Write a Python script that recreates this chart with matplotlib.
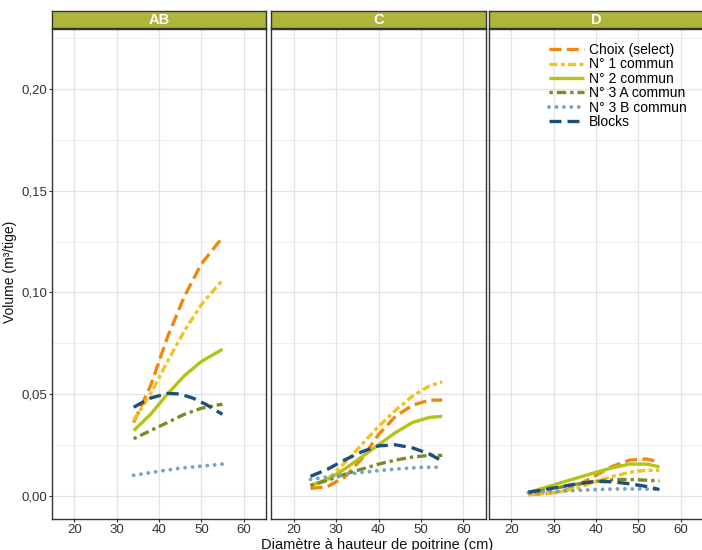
import matplotlib
matplotlib.use("Agg")
import matplotlib.pyplot as plt
from matplotlib.ticker import FuncFormatter, MultipleLocator

plt.rcParams['font.family'] = ['Liberation Sans', 'DejaVu Sans']

panels = ["AB", "C", "D"]
series = ["Choix (select)", "N° 1 commun", "N° 2 commun", "N° 3 A commun", "N° 3 B commun", "Blocks"]

# ---- data: panel AB ----
ab_choix_x = [34, 38, 42, 46, 50, 55]
ab_choix_y = [0.036, 0.054, 0.078, 0.098, 0.114, 0.127]
ab_n1_x = [34, 38, 42, 46, 50, 55]
ab_n1_y = [0.037, 0.050, 0.066, 0.081, 0.094, 0.106]
ab_n2_x = [34, 38, 42, 46, 50, 55]
ab_n2_y = [0.032, 0.040, 0.050, 0.059, 0.066, 0.072]
ab_n3a_x = [34, 38, 42, 46, 50, 55]
ab_n3a_y = [0.028, 0.032, 0.036, 0.040, 0.043, 0.045]
ab_n3b_x = [34, 40, 45, 50, 55]
ab_n3b_y = [0.010, 0.012, 0.0135, 0.0145, 0.0155]
ab_blocks_x = [34, 38, 42, 45, 48, 51, 55]
ab_blocks_y = [0.0435, 0.048, 0.0503, 0.050, 0.048, 0.045, 0.040]

# ---- data: panel C ----
c_choix_x = [24, 28, 32, 36, 40, 44, 48, 52, 55]
c_choix_y = [0.0035, 0.0045, 0.009, 0.018, 0.030, 0.039, 0.0445, 0.047, 0.047]
c_n1_x = [24, 28, 32, 36, 40, 44, 48, 52, 55]
c_n1_y = [0.005, 0.008, 0.016, 0.025, 0.034, 0.042, 0.049, 0.054, 0.056]
c_n2_x = [24, 28, 32, 36, 40, 44, 48, 52, 55]
c_n2_y = [0.005, 0.008, 0.013, 0.019, 0.025, 0.031, 0.036, 0.0385, 0.039]
c_n3a_x = [24, 28, 32, 36, 40, 44, 48, 52, 55]
c_n3a_y = [0.005, 0.0075, 0.0105, 0.013, 0.0155, 0.0175, 0.019, 0.0198, 0.0198]
c_n3b_x = [24, 30, 35, 40, 45, 50, 55]
c_n3b_y = [0.008, 0.0098, 0.0112, 0.0123, 0.0132, 0.0139, 0.014]
c_blocks_x = [24, 28, 32, 36, 40, 44, 48, 52, 55]
c_blocks_y = [0.0095, 0.013, 0.0175, 0.0215, 0.0245, 0.025, 0.0235, 0.0205, 0.017]

# ---- data: panel D ----
d_choix_x = [24, 28, 32, 36, 40, 44, 48, 52, 55]
d_choix_y = [0.0005, 0.001, 0.002, 0.0055, 0.010, 0.0145, 0.0175, 0.018, 0.0165]
d_n1_x = [24, 28, 32, 36, 40, 44, 48, 52, 55]
d_n1_y = [0.0005, 0.001, 0.002, 0.004, 0.007, 0.0095, 0.0115, 0.0125, 0.0125]
d_n2_x = [24, 28, 32, 36, 40, 44, 48, 52, 55]
d_n2_y = [0.0015, 0.004, 0.0065, 0.009, 0.0115, 0.0138, 0.0155, 0.0155, 0.0142]
d_n3a_x = [24, 30, 35, 40, 45, 50, 55]
d_n3a_y = [0.0013, 0.0035, 0.0055, 0.007, 0.008, 0.0078, 0.0072]
d_n3b_x = [24, 30, 35, 40, 45, 50, 55]
d_n3b_y = [0.0015, 0.002, 0.0025, 0.003, 0.0033, 0.0033, 0.0031]
d_blocks_x = [24, 28, 32, 36, 40, 44, 48, 52, 55]
d_blocks_y = [0.0017, 0.003, 0.0045, 0.006, 0.007, 0.0068, 0.0058, 0.0045, 0.003]

x_ticks = [20, 30, 40, 50, 60]
y_ticks = [0.00, 0.05, 0.10, 0.15, 0.20]

data = {
    "AB": [(ab_choix_x, ab_choix_y), (ab_n1_x, ab_n1_y), (ab_n2_x, ab_n2_y),
           (ab_n3a_x, ab_n3a_y), (ab_n3b_x, ab_n3b_y), (ab_blocks_x, ab_blocks_y)],
    "C": [(c_choix_x, c_choix_y), (c_n1_x, c_n1_y), (c_n2_x, c_n2_y),
          (c_n3a_x, c_n3a_y), (c_n3b_x, c_n3b_y), (c_blocks_x, c_blocks_y)],
    "D": [(d_choix_x, d_choix_y), (d_n1_x, d_n1_y), (d_n2_x, d_n2_y),
          (d_n3a_x, d_n3a_y), (d_n3b_x, d_n3b_y), (d_blocks_x, d_blocks_y)],
}

colors = ["#EE8A0B", "#F2C31C", "#B3C415", "#7B8A25", "#71A5C9", "#1D4F7C"]
styles = [
    dict(linestyle=(0, (3.6, 1.6)), dash_capstyle='butt', lw=2.4),
    dict(linestyle=(0, (2.4, 1.0, 1.2, 1.0)), dash_capstyle='butt', lw=2.4),
    dict(linestyle='-', solid_capstyle='butt', lw=2.4),
    dict(linestyle=(0, (1.0, 1.2, 2.8, 1.2)), dash_capstyle='butt', lw=2.4),
    dict(linestyle=(0, (0.01, 1.9)), dash_capstyle='round', lw=2.8),
    dict(linestyle=(0, (3.6, 1.8)), dash_capstyle='butt', lw=2.4),
]

W, H = 702, 550
fig = plt.figure(figsize=(W / 100, H / 100), dpi=100)

panel_px = [(52, 266), (271, 486), (489, 703)]
top_px, bot_px = 29, 519
strip_top = 11

def fmt(v, pos):
    return f"{v:.2f}".replace(".", ",")

axes = []
for i, (name, (l, r)) in enumerate(zip(panels, panel_px)):
    ax = fig.add_axes([l / W, (H - bot_px) / H, (r - l) / W, (bot_px - top_px) / H])
    axes.append(ax)
    ax.set_xlim(14.7, 65.3)
    ax.set_ylim(-0.0115, 0.2296)
    ax.set_xticks(x_ticks)
    ax.set_yticks(y_ticks)
    ax.yaxis.set_minor_locator(MultipleLocator(0.025))
    ax.xaxis.set_minor_locator(MultipleLocator(5))
    ax.grid(True, which='major', color='#E3E3E3', lw=0.9)
    ax.grid(True, which='minor', axis='y', color='#EEEEEE', lw=0.7)
    ax.set_axisbelow(True)
    ax.tick_params(which='minor', length=0)
    ax.tick_params(which='major', length=2.5, color='#333333', width=0.8,
                   labelsize=9.5, labelcolor='#333333', pad=1.0)
    ax.yaxis.set_major_formatter(FuncFormatter(fmt))
    if i > 0:
        ax.tick_params(axis='y', labelleft=False, length=0)
    for s in ax.spines.values():
        s.set_color('#333333')
        s.set_linewidth(1.0)
    for j, (xs, ys) in enumerate(data[name]):
        ax.plot(xs, ys, color=colors[j], label=series[j], **styles[j])

    sax = fig.add_axes([l / W, (H - top_px + 1) / H, (r - l) / W, (top_px - 1 - strip_top) / H])
    sax.set_facecolor('#AFB43A')
    sax.set_xticks([]); sax.set_yticks([])
    for s in sax.spines.values():
        s.set_color('#333333')
        s.set_linewidth(1.0)
    sax.text(0.5, 0.45, name, transform=sax.transAxes, ha='center', va='center',
             color='white', fontsize=10.5, fontweight='bold')

fig.text(10 / W, 1 - 272 / H, "Volume (m³/tige)", rotation=90, ha='center', va='center',
         fontsize=10, color='#111111')
fig.text(377 / W, 1 - 548.5 / H, "Diamètre à hauteur de poitrine (cm)",
         ha='center', va='baseline', fontsize=10.5, color='#111111')

handles, labels = axes[2].get_legend_handles_labels()
leg = fig.legend(handles, labels, loc='upper left', bbox_to_anchor=(549 / W, 1 - 43 / H),
                 frameon=False, fontsize=10, handlelength=2.5, handletextpad=0.4,
                 labelspacing=0.03, borderpad=0, borderaxespad=0)

fig.savefig("out.png", dpi=100)
